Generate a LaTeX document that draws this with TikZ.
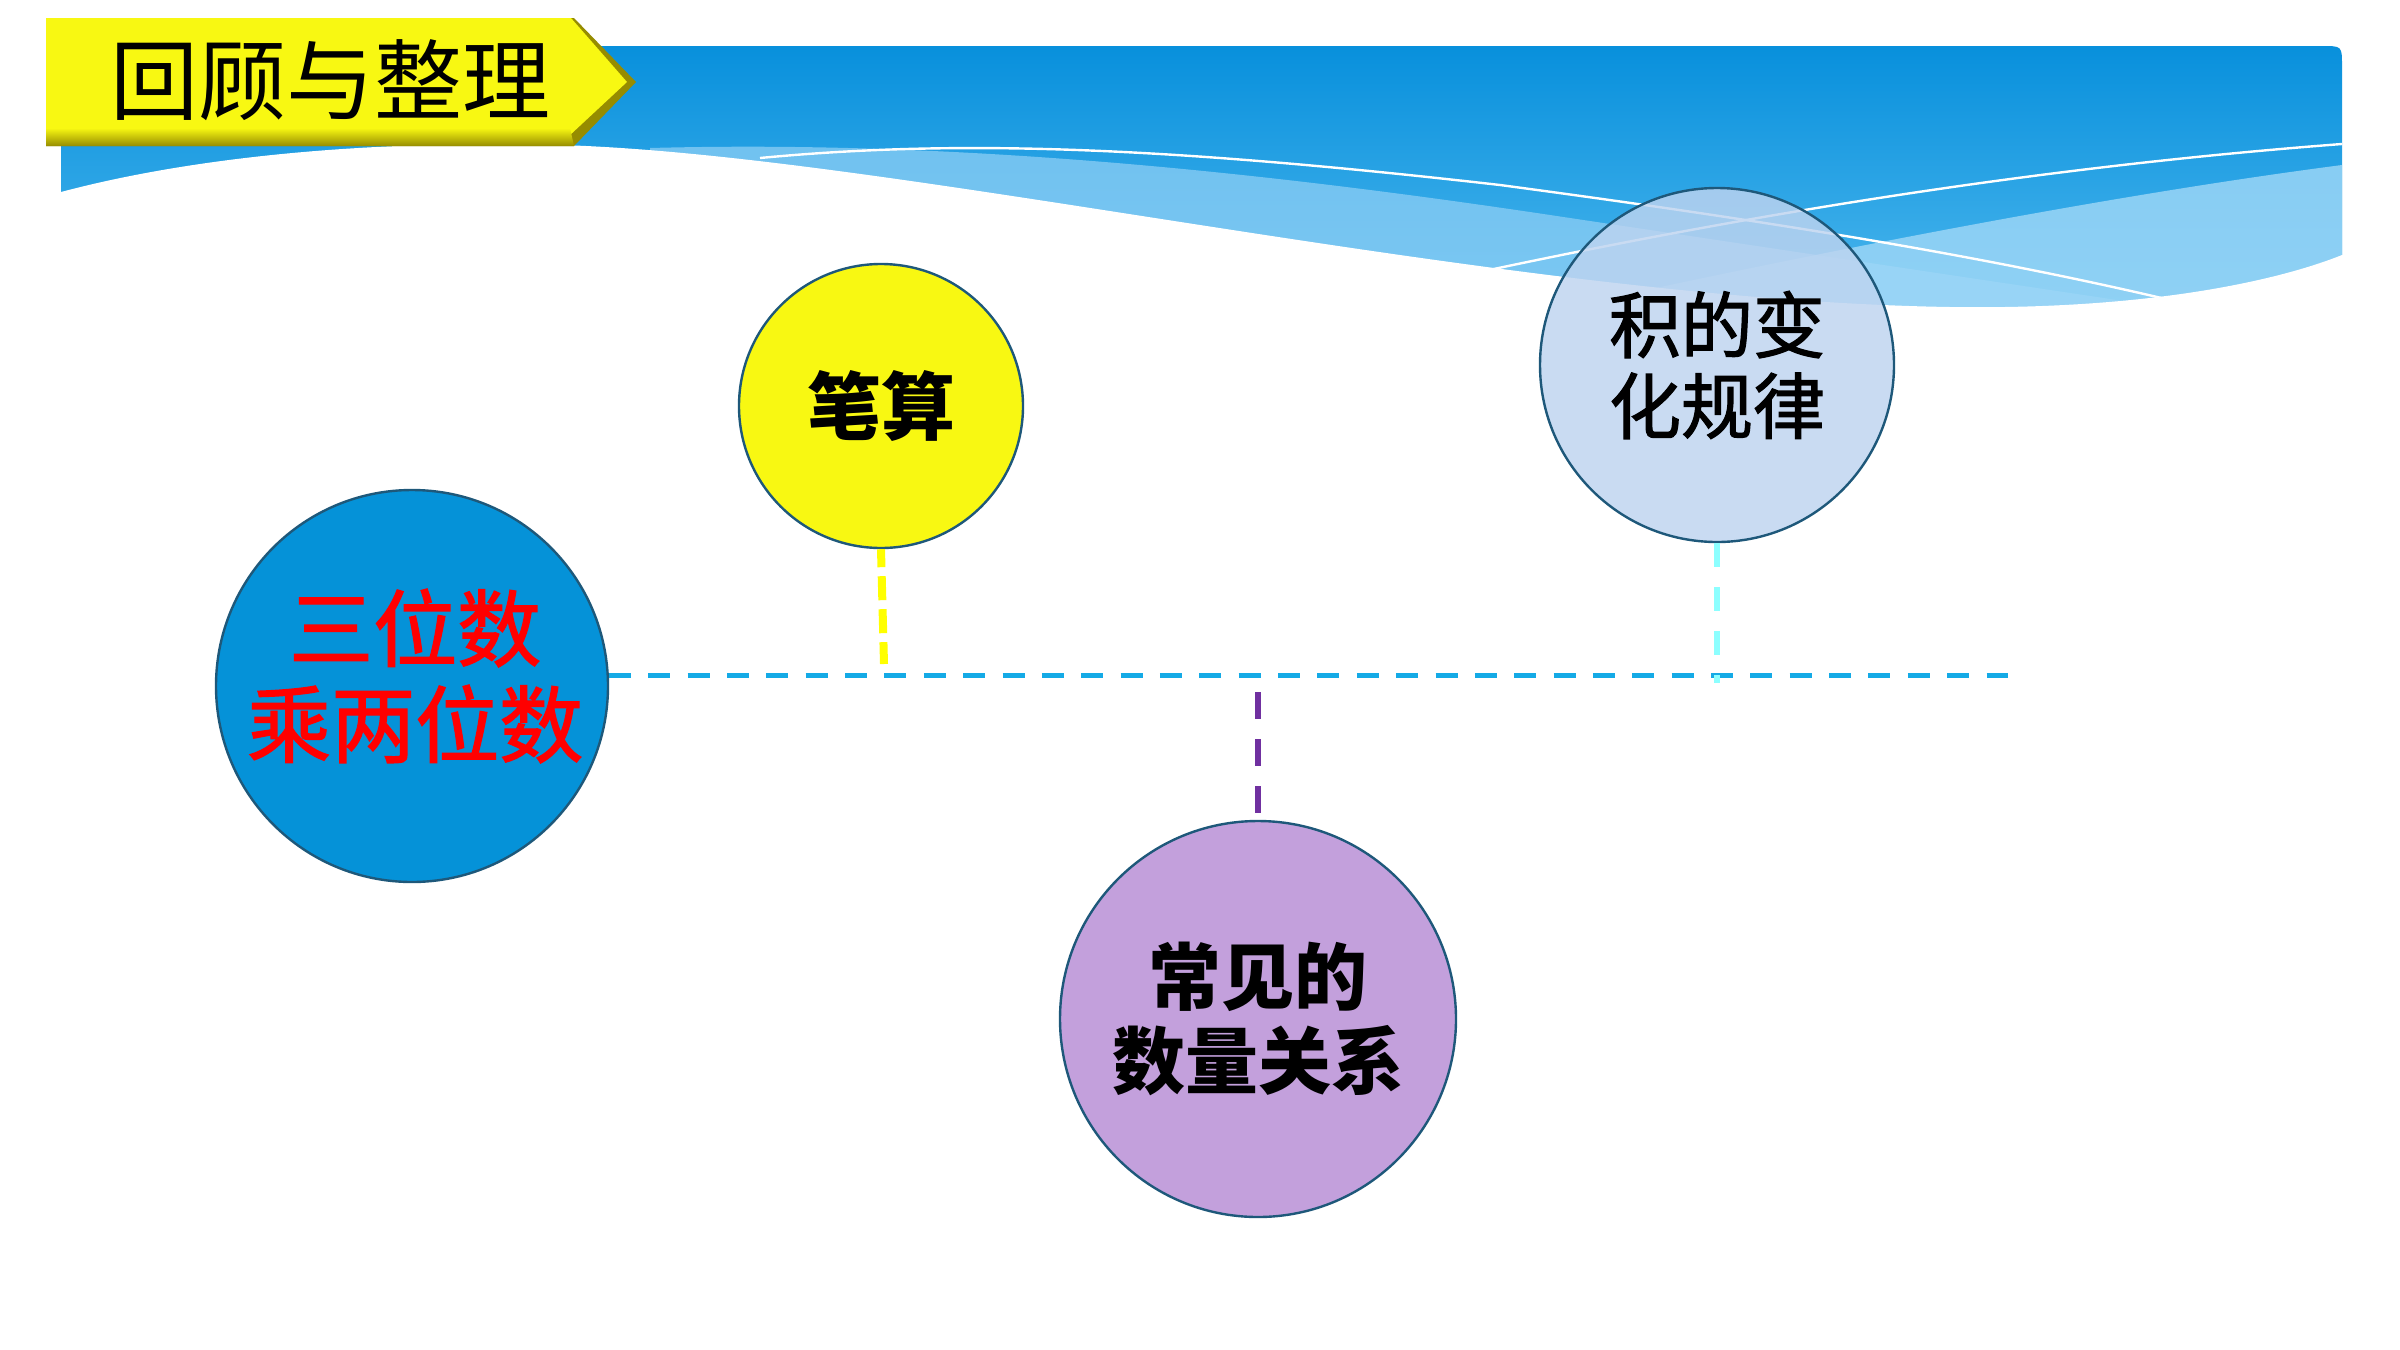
\documentclass[tikz,border=0pt]{standalone}
\usepackage{fontspec}
\newfontfamily\cjk{Noto Sans CJK SC}
\newfontfamily\cjkhei[FakeBold=1.6]{Noto Sans CJK SC}
\usetikzlibrary{calc}
\definecolor{bluetop}{RGB}{8,144,220}
\definecolor{bluebot}{RGB}{78,184,238}
\definecolor{bandA}{RGB}{140,206,245}
\definecolor{bandB}{RGB}{160,216,247}
\definecolor{bannery}{RGB}{248,248,18}
\definecolor{bannerdk}{RGB}{150,140,0}
\definecolor{ringc}{RGB}{30,88,122}
\definecolor{mainblue}{RGB}{5,146,216}
\definecolor{bsyellow}{RGB}{248,248,18}
\definecolor{jbblue}{RGB}{190,212,240}
\definecolor{cjpurple}{RGB}{195,160,220}
\definecolor{hlinec}{RGB}{20,170,230}
\definecolor{ylinec}{RGB}{255,255,0}
\definecolor{clinec}{RGB}{140,255,255}
\definecolor{plinec}{RGB}{112,48,160}
\begin{document}
\begin{tikzpicture}[x=0.25pt,y=-0.25pt,
  bubble/.style={circle, draw=ringc, line width=0.6pt, inner sep=0pt, align=center, text=black},
  mainc/.style={bubble, fill=mainblue, minimum size=98pt},
  maintext/.style={text=red, align=center, yshift=2.5pt, xshift=0.8pt, font=\cjkhei\fontsize{21}{24}\selectfont},
  bisuan/.style={bubble, fill=bsyellow, minimum size=71pt, font=\cjk\bfseries\fontsize{18.5}{21}\selectfont},
  jibian/.style={bubble, fill=jbblue, fill opacity=0.82, text opacity=1, minimum size=88.5pt, font=\cjkhei\fontsize{18}{20.25}\selectfont},
  changjian/.style={bubble, fill=cjpurple, minimum size=99pt, font=\cjk\bfseries\fontsize{18.25}{21}\selectfont},
  titletext/.style={inner sep=0pt, text=black, font=\cjk\fontsize{22}{24}\selectfont},
  hdash/.style={draw=hlinec, line width=1.25pt, dash pattern=on 5.5pt off 4.34pt},
  ydash/.style={draw=ylinec, line width=2pt, dash pattern=on 6pt off 2.25pt, dash phase=1.5pt},
  cdash/.style={draw=clinec, line width=1.5pt, dash pattern=on 6pt off 5pt},
  pdash/.style={draw=plinec, line width=1.6pt, dash pattern=on 6.75pt off 5pt},
  wline/.style={draw=white, line width=0.6pt}
]
\useasboundingbox (0,0) rectangle (2400,1350);
\fill[white] (0,0) rectangle (2400,1350);
% header background
\shade[top color=bluetop, bottom color=bluebot] (61,46) -- (2322,46) .. controls (2342,46) .. (2342,66) -- (2342,320) -- (61,320) -- cycle;
\fill[bandA, opacity=0.75] (650,148) .. controls (950,140) and (1250,170) .. (1550,215) .. controls (1850,260) and (2050,290) .. (2250,320) -- (650,320) -- cycle;
\fill[bandB, opacity=0.8] (2342,165) .. controls (2150,190) and (1900,235) .. (1600,300) -- (1600,320) -- (2342,320) -- cycle;
\draw[wline] (760,158) .. controls (950,140) and (1150,145) .. (1500,185) .. controls (1800,225) and (2000,260) .. (2170,300);
\draw[wline] (1475,273) .. controls (1700,225) and (2000,170) .. (2342,144);
\fill[white] (61,192) .. controls (200,155) and (380,140) .. (560,145) .. controls (900,155) and (1500,300) .. (1950,307) .. controls (2150,310) and (2280,280) .. (2342,255) -- (2350,255) -- (2350,340) -- (55,340) -- (55,192) -- cycle;
% title banner
\fill[bannerdk] (46,18) -- (574,18) -- (636,82) -- (574,146) -- (46,146) -- cycle;
\fill[bannery] (46,18) -- (571,18) -- (627,82) -- (569,136) -- (46,136) -- cycle;
\shade[top color=bannery, bottom color=bannerdk] (46,128) -- (570,128) -- (574,146) -- (46,146) -- cycle;
\node[titletext] (title) at (330,80) {回顾与整理};
% bubbles
\node[mainc, label={[maintext]center:{三位数\\乘两位数}}] (main) at (412,686) {};
\node[bisuan] (bs) at (881,406) {笔算};
\node[jibian] (jb) at (1717,365) {积的变\\化规律};
\node[changjian] (cj) at (1258,1019) {常见的\\数量关系};
% connectors
\coordinate (hend) at (2008,675);
\coordinate (yend) at (884,664);
\coordinate (cend) at (1717,683);
\coordinate (pstart) at (1258,692);
\draw[hdash] (main.3) -- (main.3 -| hend);
\draw[ydash] (bs.south) -- (yend);
\draw[cdash] (jb.south) -- (cend);
\draw[pdash, shorten >=1.75pt] (pstart) -- (cj.north);
\end{tikzpicture}
\end{document}
